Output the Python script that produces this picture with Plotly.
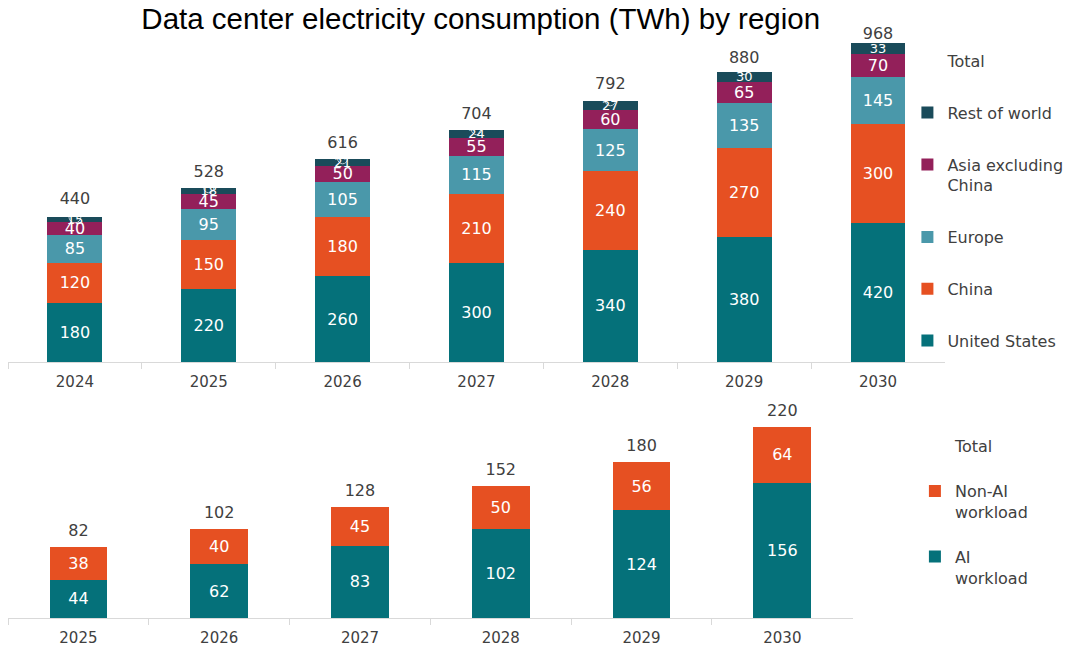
import plotly.graph_objects as go

# Top chart: consumption by region (TWh)
years_top = ['2024', '2025', '2026', '2027', '2028', '2029', '2030']
united_states = [180, 220, 260, 300, 340, 380, 420]
china = [120, 150, 180, 210, 240, 270, 300]
europe = [85, 95, 105, 115, 125, 135, 145]
asia_ex_china = [40, 45, 50, 55, 60, 65, 70]
rest_of_world = [15, 18, 21, 24, 27, 30, 33]
totals_top = [440, 528, 616, 704, 792, 880, 968]

# Bottom chart: AI vs non-AI workload
years_bottom = ['2025', '2026', '2027', '2028', '2029', '2030']
ai_workload = [44, 62, 83, 102, 124, 156]
non_ai_workload = [38, 40, 45, 50, 56, 64]
totals_bottom = [82, 102, 128, 152, 180, 220]

TEAL = '#05717A'
ORANGE = '#E65022'
LIGHT_BLUE = '#4A98AA'
PLUM = '#93205A'
DARK = '#1A4B5A'
FONT = 'DejaVu Sans'
TXT = '#404040'

fig = go.Figure()

# (name, values, colour, label size, legend rank)
top_series = [
    ('United States', united_states, TEAL, 16, 6),
    ('China', china, ORANGE, 16, 5),
    ('Europe', europe, LIGHT_BLUE, 16, 4),
    ('Asia excluding<br>China', asia_ex_china, PLUM, 16, 3),
    ('Rest of world', rest_of_world, DARK, 13, 2),
]
for i, (name, vals, color, fs, rank) in enumerate(top_series):
    fig.add_bar(
        x=years_top, y=vals, name=name,
        marker=dict(color=color, line=dict(width=0)),
        text=vals, textposition='inside', insidetextanchor='middle',
        textangle=0, constraintext='none',
        textfont=dict(family=FONT, size=fs, color='white'),
        legendgroup=f'top{i}', legend='legend', legendrank=rank,
        xaxis='x', yaxis='y', hoverinfo='skip',
    )

# invisible markers only push the total labels up; the last ones sit tighter
fig.add_scatter(
    x=years_top, y=totals_top, name='Total',
    mode='markers+text', text=totals_top, textposition='top center',
    marker=dict(color='rgba(0,0,0,0)', size=[12, 10, 10, 10, 10, 6, 0]),
    textfont=dict(family=FONT, size=16, color=TXT), cliponaxis=False,
    legendgroup='top_total', legend='legend', legendrank=1,
    xaxis='x', yaxis='y', hoverinfo='skip',
)

bottom_series = [
    ('AI<br>workload', ai_workload, TEAL, 3),
    ('Non-AI<br>workload', non_ai_workload, ORANGE, 2),
]
for i, (name, vals, color, rank) in enumerate(bottom_series):
    fig.add_bar(
        x=years_bottom, y=vals, name=name,
        marker=dict(color=color, line=dict(width=0)),
        text=vals, textposition='inside', insidetextanchor='middle',
        textangle=0, constraintext='none',
        textfont=dict(family=FONT, size=16, color='white'),
        legendgroup=f'bot{i}', legend='legend2', legendrank=rank,
        xaxis='x2', yaxis='y2', hoverinfo='skip',
    )

fig.add_scatter(
    x=years_bottom, y=totals_bottom, name='Total',
    mode='markers+text', text=totals_bottom, textposition='top center',
    marker=dict(color='rgba(0,0,0,0)', size=10),
    textfont=dict(family=FONT, size=16, color=TXT), cliponaxis=False,
    legendgroup='bot_total', legend='legend2', legendrank=1,
    xaxis='x2', yaxis='y2', hoverinfo='skip',
)

xaxis_style = dict(
    showline=True, linecolor='#D9D9D9', linewidth=1,
    ticks='outside', tickson='boundaries', ticklen=6, tickcolor='#D9D9D9',
    ticklabelstandoff=6,
    tickfont=dict(family=FONT, size=15, color=TXT),
    showgrid=False, zeroline=False, fixedrange=True,
)
yaxis_style = dict(visible=False, showgrid=False, zeroline=False, fixedrange=True)

# page body adds an 8px margin, so the figure is sized 8px short of the window
fig.update_layout(
    width=1072, height=653,
    margin=dict(l=0, r=0, t=0, b=0),
    paper_bgcolor='white', plot_bgcolor='white',
    barmode='stack', bargap=0.59,
    title=dict(
        text='Data center electricity consumption (TWh) by region',
        x=0.441, xanchor='center', y=0.983, yanchor='middle',
        font=dict(family='Liberation Sans', size=29.5, color='black'),
    ),
    xaxis=dict(domain=[0.0, 0.874], anchor='y', **xaxis_style),
    yaxis=dict(domain=[0.458, 0.963], range=[0, 1000], anchor='x', **yaxis_style),
    xaxis2=dict(domain=[0.0, 0.788], anchor='y2', **xaxis_style),
    yaxis2=dict(domain=[0.066, 0.398], range=[0, 250], anchor='x2', **yaxis_style),
    legend=dict(
        x=0.839, y=0.945, xanchor='left', yanchor='top',
        traceorder='grouped', tracegroupgap=28, valign='top',
        font=dict(family=FONT, size=16, color=TXT), bgcolor='rgba(0,0,0,0)',
    ),
    legend2=dict(
        x=0.846, y=0.355, xanchor='left', yanchor='top',
        traceorder='grouped', tracegroupgap=21, valign='top',
        font=dict(family=FONT, size=16, color=TXT), bgcolor='rgba(0,0,0,0)',
    ),
    showlegend=True,
)

fig.write_html('out.html')
